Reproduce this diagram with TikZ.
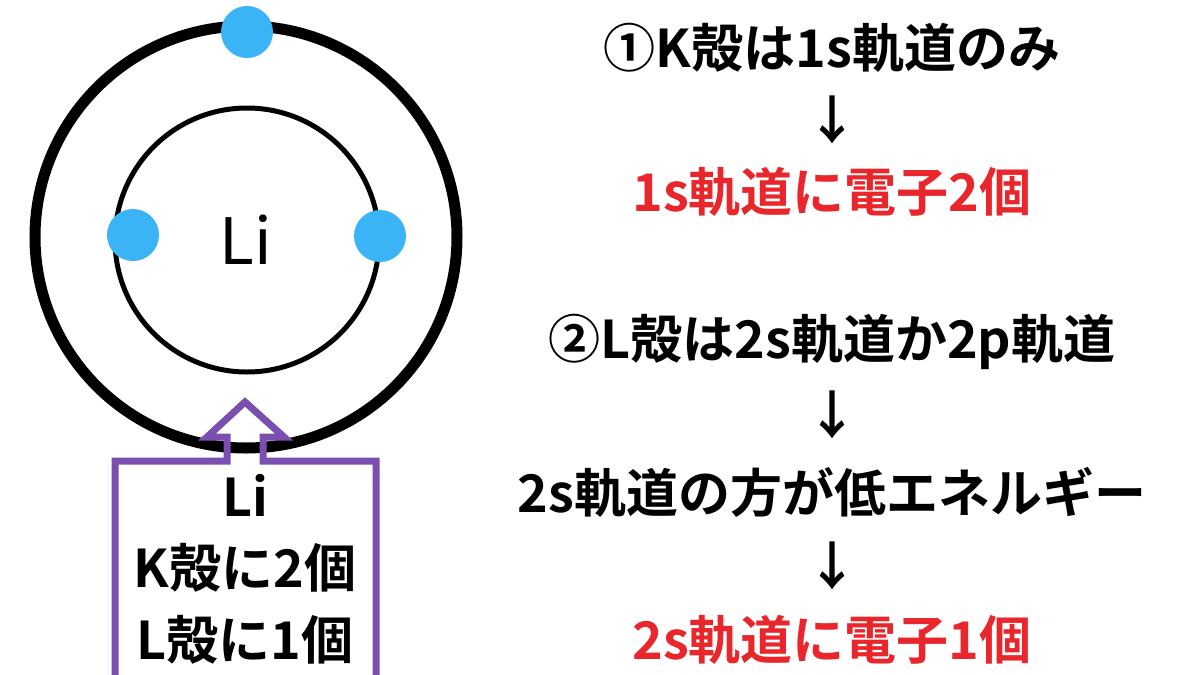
\documentclass[tikz,border=0pt]{standalone}
\usepackage{fontspec}
\setmainfont{Noto Sans CJK JP}
\newfontfamily\jpb{Noto Sans CJK JP Bold}
\definecolor{eblue}{HTML}{3BB4F5}
\definecolor{pur}{HTML}{7B4FB0}
\definecolor{rd}{HTML}{E8262B}
\begin{document}
\begin{tikzpicture}[x=1pt,y=-1pt,
  txt/.style={font=\jpb\fontsize{52}{56}\selectfont,inner sep=0pt},
  ctxt/.style={font=\jpb\fontsize{52}{56}\selectfont,inner sep=0pt},
  elec/.style={circle,fill=eblue,minimum size=52pt,inner sep=0pt}]
\useasboundingbox[fill=white] (0,0) rectangle (1200,675);
\draw[line width=11pt] (246,237) circle (211);
\draw[line width=5pt] (247,240) circle (132);
\node[elec] (e1) at (247,32) {};
\node[elec] (e2) at (133,235) {};
\node[elec] (e3) at (380,236) {};
\node[font=\fontsize{64}{68}\selectfont,inner sep=0pt] (li) at (246,240) {Li};
\fill[white] (115,461) rectangle (376,680);
\draw[pur,line width=7pt,line join=miter]
  (115,690) -- (115,461) -- (227,461) -- (227,437) -- (207,437) -- (245,402)
  -- (284,437) -- (263,437) -- (263,461) -- (376,461) -- (376,690);
\node[ctxt] (c1) at (245,495) {Li};
\node[ctxt] (c2) at (245,568) {K殻に2個};
\node[ctxt] (c3) at (245,640) {L殻に1個};
\node[txt] (t1) at (832,48) {①K殻は1s軌道のみ};
\node[txt] (a1) at (832,120) {↓};
\node[txt,text=rd] (t2) at (832,192) {1s軌道に電子2個};
\node[txt] (t3) at (832,342) {②L殻は2s軌道か2p軌道};
\node[txt] (a2) at (832,415) {↓};
\node[txt] (t4) at (832,492) {2s軌道の方が低エネルギー};
\node[txt] (a3) at (832,566) {↓};
\node[txt,text=rd] (t5) at (832,640) {2s軌道に電子1個};
\end{tikzpicture}
\end{document}
